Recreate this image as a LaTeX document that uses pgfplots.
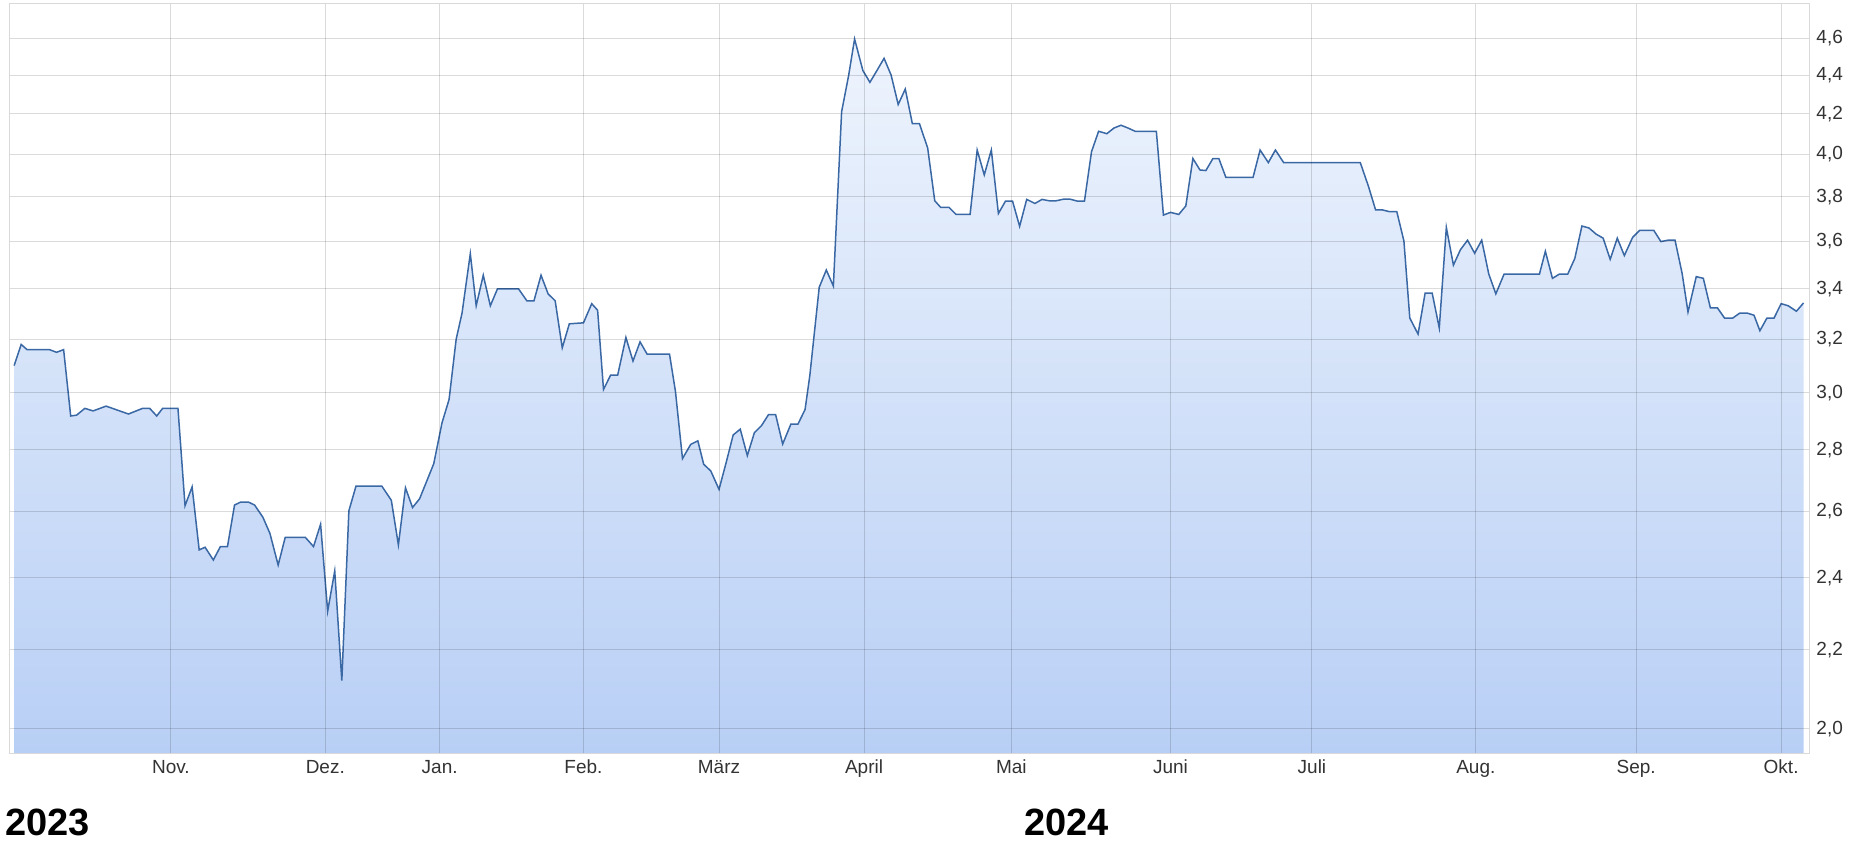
\documentclass[border=0pt]{standalone}
\usepackage{fontspec}
\setmainfont{Liberation Sans}
\usepackage{pgfplots}
\usepackage{pgfplotstable}
\pgfplotsset{compat=1.18}

\definecolor{kurslinie}{RGB}{58,104,165}
\definecolor{flaecheoben}{RGB}{238,244,253}
\definecolor{flaecheunten}{RGB}{184,207,245}

% x = Position auf der Zeitachse (Handelstage, skaliert), y = Kurs
\pgfplotstableread{
x y
12 3.10
18 3.18
23 3.16
42 3.16
48 3.15
54 3.16
60 2.917
65 2.92
72 2.944
79 2.935
90 2.952
109 2.924
121 2.944
127 2.944
133 2.917
138 2.944
151 2.944
157 2.618
163 2.678
169 2.482
174 2.49
181 2.452
187 2.492
193 2.492
199 2.62
204 2.629
211 2.629
216 2.62
223 2.582
229 2.532
236 2.437
242 2.52
259 2.52
266 2.492
272 2.56
278 2.305
284 2.42
290 2.12
296 2.602
302 2.68
324 2.68
332 2.635
338 2.497
344 2.675
350 2.612
356 2.64
368 2.754
375 2.893
381 2.976
387 3.2
392 3.303
399 3.548
404 3.332
410 3.457
416 3.332
422 3.4
440 3.4
447 3.352
453 3.352
459 3.457
465 3.38
471 3.352
477 3.167
483 3.26
495 3.264
502 3.34
507 3.314
512 3.012
518 3.064
524 3.064
531 3.207
537 3.117
543 3.19
549 3.143
568 3.143
573 3.006
579 2.771
586 2.819
592 2.831
597 2.752
603 2.73
610 2.67
616 2.757
622 2.851
628 2.871
634 2.781
640 2.859
646 2.883
652 2.922
658 2.922
664 2.82
671 2.889
677 2.889
683 2.94
687 3.062
695 3.407
701 3.479
707 3.412
714 4.21
720 4.4
725 4.596
732 4.425
738 4.362
744 4.425
750 4.49
756 4.4
762 4.247
768 4.327
774 4.15
780 4.15
787 4.03
793 3.782
798 3.752
805 3.752
811 3.721
823 3.721
829 4.02
835 3.902
841 4.02
847 3.724
853 3.78
859 3.78
865 3.667
871 3.788
878 3.77
884 3.788
890 3.782
896 3.782
902 3.789
908 3.789
914 3.78
920 3.78
926 4.012
932 4.112
939 4.1
945 4.128
951 4.142
957 4.128
963 4.112
981 4.112
987 3.717
993 3.729
1000 3.72
1006 3.758
1012 3.98
1018 3.925
1023 3.922
1029 3.98
1034 3.98
1040 3.89
1063 3.89
1069 4.02
1076 3.96
1082 4.02
1089 3.96
1154 3.96
1161 3.847
1167 3.74
1173 3.74
1179 3.732
1185 3.732
1191 3.603
1196 3.283
1203 3.22
1209 3.383
1215 3.383
1221 3.244
1227 3.662
1233 3.499
1239 3.565
1245 3.606
1251 3.55
1257 3.606
1263 3.462
1269 3.38
1276 3.462
1306 3.462
1311 3.558
1317 3.444
1323 3.462
1330 3.462
1336 3.528
1342 3.668
1348 3.66
1354 3.633
1360 3.615
1366 3.524
1372 3.615
1378 3.54
1385 3.618
1391 3.649
1397 3.649
1403 3.649
1409 3.6
1415 3.606
1421 3.606
1427 3.465
1432 3.307
1439 3.451
1445 3.444
1451 3.323
1457 3.323
1463 3.283
1470 3.283
1476 3.303
1482 3.303
1488 3.294
1493 3.233
1499 3.283
1505 3.283
1511 3.34
1517 3.332
1524 3.31
1530 3.343
}\kurs

\begin{document}
\begin{tikzpicture}
\path[use as bounding box] (0,0) rectangle (924.5pt,421.5pt);
\begin{axis}[
    at={(4.7pt,45pt)}, anchor=south west,
    scale only axis,
    width=900pt, height=375pt,
    ymode=log,
    xmin=8, xmax=1535,
    ymin=1.943, ymax=4.80,
    axis line style={black!15},
    ytick={2.0,2.2,2.4,2.6,2.8,3.0,3.2,3.4,3.6,3.8,4.0,4.2,4.4,4.6},
    yticklabels={{2,0},{2,2},{2,4},{2,6},{2,8},{3,0},{3,2},{3,4},{3,6},{3,8},{4,0},{4,2},{4,4},{4,6}},
    yticklabel pos=right,
    xtick={145,276,373,495,610,733,858,993,1113,1252,1388,1511},
    xticklabels={Nov.,Dez.,Jan.,Feb.,März,April,Mai,Juni,Juli,Aug.,Sep.,Okt.},
    major tick length=0pt,
    grid=major,
    grid style={black, opacity=0.14, line width=0.5pt},
    tick label style={font=\fontsize{9.5}{11}\selectfont, text=black!80},
    axis on top,
]
% Flaeche unter der Kurve bis zum unteren Achsenrand
\addplot[draw=none, top color=flaecheoben, bottom color=flaecheunten] table {\kurs}
    -- (axis cs:1530,1.943) -- (axis cs:12,1.943) -- cycle;
\addplot[kurslinie, line width=0.75pt, mark=none] table {\kurs};
\end{axis}
\node[anchor=base west, inner sep=0pt, font=\bfseries\fontsize{19}{22}\selectfont] at (2.5pt,4pt) {2023};
\node[anchor=base west, inner sep=0pt, font=\bfseries\fontsize{19}{22}\selectfont] at (512pt,4pt) {2024};
\end{tikzpicture}
\end{document}
